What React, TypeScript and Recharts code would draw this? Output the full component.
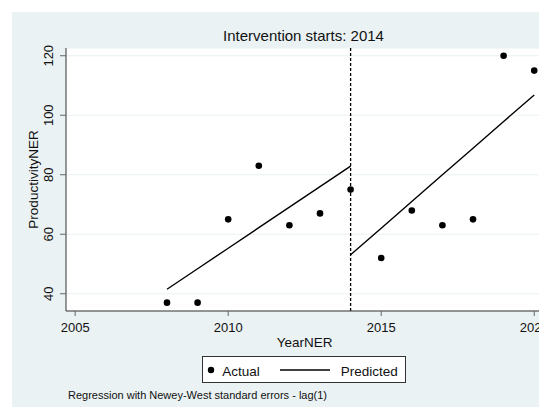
import React from 'react'
import { CartesianGrid, ComposedChart, Line, ReferenceLine, XAxis, YAxis } from 'recharts';

const years = [2008, 2009, 2010, 2011, 2012, 2013, 2014, 2015, 2016, 2017, 2018, 2019, 2020];
const actual = [37, 37, 65, 83, 63, 67, 75, 52, 68, 63, 65, 120, 115];
// fitted trend before / after the intervention
const predictedPre = [41.5, 48.4, 55.3, 62.2, 69.1, 76.0, 82.9, null, null, null, null, null, null];
const predictedPost = [null, null, null, null, null, null, 53.1, 62.0, 71.0, 80.0, 88.9, 97.9, 106.8];

const xTicks = [2005, 2010, 2015, 2020];
const yTicks = [40, 60, 80, 100, 120];
const interventionYear = 2014;

const font = '"Liberation Sans", Arial, sans-serif';
const panelBg = '#eaf2f3';

const rows = years.map((year, i) => ({
  year,
  actual: actual[i],
  pre: predictedPre[i],
  post: predictedPost[i],
}));

const YTick = ({ y, payload }: any) => (
  <text x={53.5} y={y} transform={`rotate(-90, 53.5, ${y})`} textAnchor="middle"
    fontSize={13} fill="#111" fontFamily={font}>
    {payload.value}
  </text>
)

export default function App() {
  return (
    <div style={{ position: 'absolute', left: 0, top: 0, width: 539, height: 411, overflow: 'hidden', background: '#fff' }}>
      <div style={{ position: 'absolute', left: 12, top: 12, width: 540, height: 395, background: panelBg }} />
      <div style={{ position: 'absolute', left: 0, top: 0 }}>
        <ComposedChart width={560} height={411} data={rows}
          margin={{ top: 48, right: 16.6, bottom: 60, left: 12 }}>
          <CartesianGrid vertical={false} stroke={panelBg} strokeWidth={1.2} fill="#fff" />
          <XAxis type="number" dataKey="year" domain={[2004.7, 2020.3]} ticks={xTicks}
            height={40} tickSize={5} tickMargin={7}
            axisLine={{ stroke: '#333' }} tickLine={{ stroke: '#666' }}
            tick={{ fontSize: 13, fill: '#111', fontFamily: font }}
            label={{ value: 'YearNER', position: 'insideBottom', offset: 4.5, fontSize: 13.5, fill: '#111', fontFamily: font }} />
          <YAxis type="number" domain={[34.2, 122.6]} ticks={yTicks} width={54} tickSize={6}
            axisLine={{ stroke: '#333' }} tickLine={{ stroke: '#666' }}
            tick={<YTick />}
            label={{ value: 'ProductivityNER', angle: -90, position: 'insideLeft', offset: 21, fontSize: 13.5, fill: '#111', fontFamily: font, style: { textAnchor: 'middle' } }} />
          <ReferenceLine x={interventionYear} stroke="#000" strokeWidth={1.3} strokeDasharray="3 2" />
          <Line dataKey="pre" stroke="#000" strokeWidth={1.4} dot={false} activeDot={false} isAnimationActive={false} />
          <Line dataKey="post" stroke="#000" strokeWidth={1.4} dot={false} activeDot={false} isAnimationActive={false} />
          <Line dataKey="actual" stroke="none" dot={{ r: 3.3, fill: '#000', stroke: 'none' }} activeDot={false} isAnimationActive={false} />
        </ComposedChart>
      </div>
      <svg width={539} height={411} style={{ position: 'absolute', left: 0, top: 0, pointerEvents: 'none' }}
        fontFamily={font} fill="#111">
        <text x={303.5} y={40.7} textAnchor="middle" fontSize={15}>Intervention starts: 2014</text>
        <rect x={202.5} y={356.5} width={203} height={26} fill="#fff" stroke="#333" strokeWidth={1} />
        <circle cx={211} cy={370} r={3.2} fill="#000" />
        <text x={222.3} y={375.5} fontSize={13.5}>Actual</text>
        <line x1={280} x2={330} y1={370} y2={370} stroke="#000" strokeWidth={1.4} />
        <text x={340.7} y={375.5} fontSize={13.5}>Predicted</text>
        <text x={68} y={399} fontSize={11}>Regression with Newey-West standard errors - lag(1)</text>
      </svg>
    </div>
  )
}
